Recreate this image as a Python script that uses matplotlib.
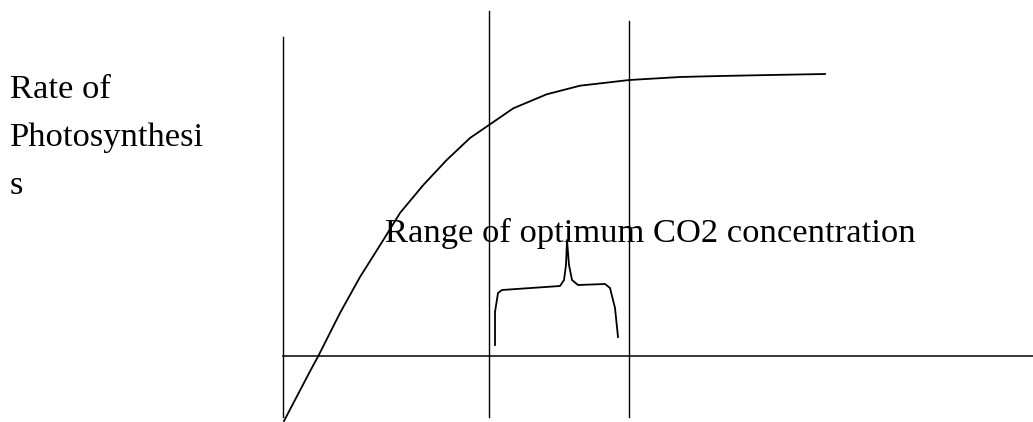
import matplotlib
matplotlib.use("Agg")
import matplotlib.pyplot as plt

# curve: rate of photosynthesis vs CO2 concentration (arbitrary units)
co2 = [0.1, 2.77, 3.53, 5.7, 7.7, 10.03, 11.7, 14.03, 16.37, 18.7, 20.7,
       23.03, 26.37, 29.7, 34.63, 39.7, 43.7, 48.7, 54.2]
rate = [-6.5, -1.4, 0.0, 4.3, 7.9, 11.6, 14.3, 17.1, 19.6, 21.8, 23.17,
        24.77, 26.17, 27.03, 27.6, 27.9, 28.0, 28.1, 28.2]

# vertical guide lines: x position, top, bottom
guide_x = [0.0, 20.6, 34.6]
guide_top = [31.9, 34.5, 33.5]
guide_bottom = [-6.1, -6.1, -6.1]
x_axis_end = 75.0

# hand drawn brace over the optimum range
brace_x = [21.2, 21.2, 21.5, 21.9, 27.7, 28.1, 28.3, 28.4, 28.6, 28.9, 29.5, 32.2, 32.7, 33.2, 33.5]
brace_y = [1.1, 4.4, 6.3, 6.6, 7.0, 7.6, 9.1, 11.6, 9.1, 7.6, 7.1, 7.2, 6.8, 4.8, 1.9]

range_label = "Range of optimum CO2 concentration"
range_label_pos = (10.2, 11.4)
ylabel_lines = ["Rate of", "Photosynthesi", "s"]

plt.rcParams["font.family"] = ["Liberation Serif", "DejaVu Serif"]

fig = plt.figure(figsize=(10.33, 4.22), dpi=100)
ax = fig.add_axes([0, 0, 1, 1])
ax.set_xlim(-28.3, 75.0)
ax.set_ylim(-6.6, 35.6)
ax.axis("off")

for gx, gt, gb in zip(guide_x, guide_top, guide_bottom):
    ax.plot([gx, gx], [gb, gt], color="black", lw=1.0)
ax.plot([0, x_axis_end], [0, 0], color="black", lw=1.1)

ax.plot(co2, rate, color="black", lw=1.3, solid_joinstyle="round")
ax.plot(brace_x, brace_y, color="black", lw=1.3, solid_joinstyle="round")

ax.text(range_label_pos[0], range_label_pos[1], range_label,
        fontsize=24.8, va="baseline", ha="left", color="black")

# y label written as three lines, like the original
for i, line in enumerate(ylabel_lines):
    fig.text(10 / 1033, 1 - (98 + 48 * i) / 422, line,
             fontsize=24.8, va="baseline", ha="left", color="black")

fig.savefig("out.png", dpi=100)
